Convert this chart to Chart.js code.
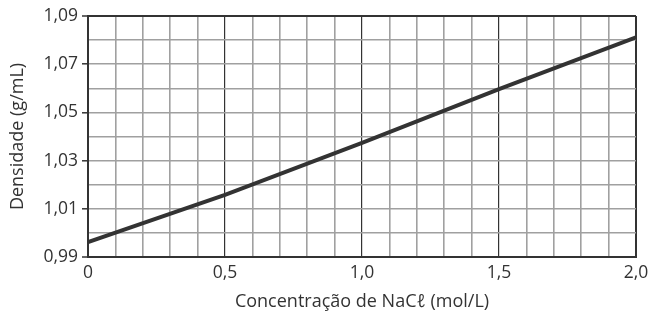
<!DOCTYPE html>
<html>
<head>
<meta charset="utf-8">
<script src="https://cdn.jsdelivr.net/npm/chart.js"></script>
<style>
  html, body { margin: 0; padding: 0; background: #fff; }
  #wrap { width: 654px; height: 318px; }
</style>
</head>
<body>
<div id="wrap"><canvas id="chart"></canvas></div>
<script>
// concentração (mol/L) e densidade (g/mL)
const concentrations = [0, 0.5, 1.0, 1.5, 2.0];
const densities = [0.9962, 1.0158, 1.0374, 1.0597, 1.0811];

const xTicks = [0, 0.5, 1.0, 1.5, 2.0];
const xTickLabels = ['0', '0,5', '1,0', '1,5', '2,0'];
const yTicks = [0.99, 1.01, 1.03, 1.05, 1.07, 1.09];
const yTickLabels = ['0,99', '1,01', '1,03', '1,05', '1,07', '1,09'];

const near = (a, b) => Math.abs(a - b) < 1e-6;
const labelFor = (v, vals, labels) => {
  const i = vals.findIndex(t => near(t, v));
  return i >= 0 ? labels[i] : '';
};

const FONT = "'Open Sans', sans-serif";
const INK = '#333';
const MINOR = '#a0a0a0';

new Chart(document.getElementById('chart'), {
  type: 'line',
  data: {
    datasets: [{
      data: concentrations.map((x, i) => ({ x, y: densities[i] })),
      borderColor: INK,
      borderWidth: 4,
      pointRadius: 0,
      tension: 0
    }]
  },
  options: {
    responsive: true,
    maintainAspectRatio: false,
    animation: false,
    layout: { padding: { top: 16, right: 18, left: 0, bottom: 0 } },
    plugins: { legend: { display: false }, tooltip: { enabled: false } },
    scales: {
      x: {
        type: 'linear',
        min: 0, max: 2,
        afterFit: s => { s.height = 61; },
        ticks: {
          stepSize: 0.1,
          autoSkip: false,
          maxRotation: 0,
          padding: 2,
          color: INK,
          font: { family: FONT, size: 17.5 },
          callback: v => labelFor(v, xTicks, xTickLabels)
        },
        grid: {
          color: c => (near(c.tick.value * 2, Math.round(c.tick.value * 2)) ? INK : MINOR),
          lineWidth: c => {
            const v = c.tick.value;
            if (near(v, 0) || near(v, 2)) return 2;
            return near(v * 2, Math.round(v * 2)) ? 1.2 : 1.6;
          },
          tickColor: 'rgba(0,0,0,0)',
          tickLength: 4
        },
        border: { display: true, color: INK, width: 2 },
        title: {
          display: true,
          text: 'Concentração de NaCℓ (mol/L)',
          color: INK,
          font: { family: FONT, size: 18 },
          padding: { top: 0, bottom: 5 }
        }
      },
      y: {
        min: 0.99, max: 1.09,
        afterFit: s => { s.width = 88; },
        ticks: {
          stepSize: 0.01,
          autoSkip: false,
          padding: 4,
          color: INK,
          font: { family: FONT, size: 17.5 },
          callback: v => labelFor(v, yTicks, yTickLabels)
        },
        grid: {
          color: c => (near(c.tick.value, 0.99) || near(c.tick.value, 1.09) ? INK : MINOR),
          lineWidth: c => (near(c.tick.value, 0.99) || near(c.tick.value, 1.09) ? 2 : 1.6),
          tickColor: c => (labelFor(c.tick.value, yTicks, yTickLabels) ? INK : 'rgba(0,0,0,0)'),
          tickLength: 6,
          tickWidth: 1.5
        },
        border: { display: true, color: INK, width: 2 },
        title: {
          display: true,
          text: 'Densidade (g/mL)',
          color: INK,
          font: { family: FONT, size: 18 },
          padding: { top: 7, bottom: 0 }
        }
      }
    }
  }
});
</script>
</body>
</html>
